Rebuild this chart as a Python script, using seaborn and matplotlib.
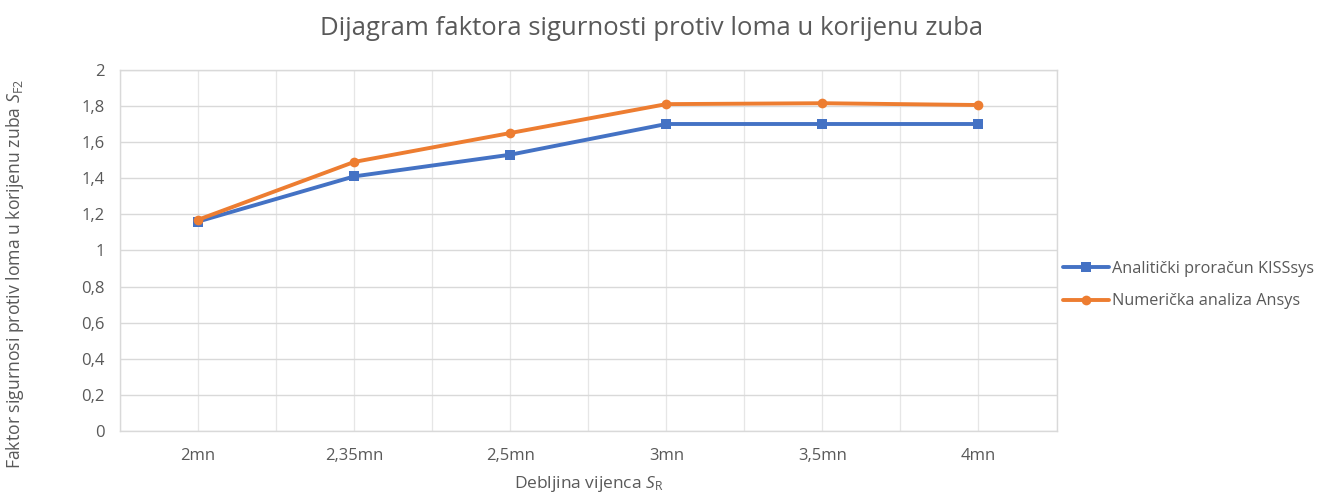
import numpy as np
import pandas as pd
import matplotlib
matplotlib.use("Agg")
import matplotlib.pyplot as plt
import seaborn as sns

categories = ["2mn", "2,35mn", "2,5mn", "3mn", "3,5mn", "4mn"]
kisssys = [1.16, 1.41, 1.53, 1.70, 1.70, 1.70]
ansys = [1.17, 1.49, 1.65, 1.81, 1.815, 1.805]
series_names = ["Analitički proračun KISSsys", "Numerička analiza Ansys"]
y_ticks = [0, 0.2, 0.4, 0.6, 0.8, 1, 1.2, 1.4, 1.6, 1.8, 2]

sns.set_theme(style="white")
plt.rcParams["font.family"] = ["Open Sans", "DejaVu Sans"]
plt.rcParams["mathtext.fontset"] = "custom"
plt.rcParams["mathtext.it"] = "Open Sans:italic"
plt.rcParams["mathtext.rm"] = "Open Sans"

TEXT = "#595959"

df = pd.DataFrame({
    "Debljina": categories * 2,
    "Vrijednost": kisssys + ansys,
    "Serija": [series_names[0]] * len(categories) + [series_names[1]] * len(categories),
})

fig = plt.figure(figsize=(13.19, 4.95), dpi=100)
ax = fig.add_axes([0.091, 0.129, 0.710, 0.730])

palette = {series_names[0]: "#4472C4", series_names[1]: "#ED7D31"}
markers = {series_names[0]: "s", series_names[1]: "o"}
sns.lineplot(data=df, x="Debljina", y="Vrijednost", hue="Serija", style="Serija",
             palette=palette, markers=markers, dashes=False, linewidth=2.8,
             markersize=7, markeredgewidth=0, sort=False, ax=ax, legend=True)

ax.set_xlim(-0.5, len(categories) - 0.5)
ax.set_ylim(0, 2)
ax.set_yticks(y_ticks)
ax.set_yticklabels([("%g" % v).replace(".", ",") for v in y_ticks])
ax.set_xticks(range(len(categories)))
ax.set_xticklabels(categories)
ax.set_xticks(np.arange(-0.5, len(categories), 1.0), minor=True)

ax.grid(True, which="major", axis="y", color="#d9d9d9", linewidth=1.0)
ax.grid(True, which="both", axis="x", color="#e6e6e6", linewidth=0.9)
ax.set_axisbelow(True)
for s in ax.spines.values():
    s.set_visible(True)
    s.set_color("#d9d9d9")
    s.set_linewidth(1.0)

ax.tick_params(axis="both", which="both", length=0, labelsize=12,
               labelcolor=TEXT)
ax.tick_params(axis="y", pad=11)
ax.tick_params(axis="x", pad=12)

ax.set_xlabel(r"Debljina vijenca $\mathit{S}_{\mathrm{R}}$", fontsize=12.5,
              color=TEXT, va="center")
ax.xaxis.set_label_coords(0.5, -0.146)
ax.set_ylabel(r"Faktor sigurnosi protiv loma u korijenu zuba $\mathit{S}_{\mathrm{F2}}$",
              fontsize=12.7, color=TEXT, va="center")
ax.yaxis.set_label_coords(-0.112, 0.435)
fig.text(0.494, 0.943, "Dijagram faktora sigurnosti protiv loma u korijenu zuba",
         fontsize=18.5, color=TEXT, ha="center", va="center")

leg = ax.legend(loc="center left", bbox_to_anchor=(1.0, 0.404), frameon=False,
                fontsize=11.7, handlelength=2.8, handletextpad=0.2,
                labelspacing=1.0, borderaxespad=0.0)
for t in leg.get_texts():
    t.set_color(TEXT)

fig.savefig("out.png", dpi=100)
